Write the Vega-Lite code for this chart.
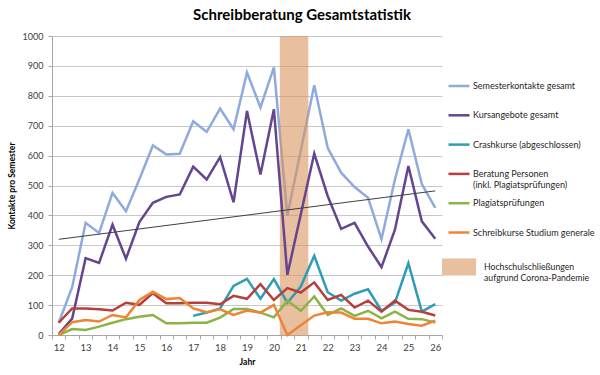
{
  "$schema": "https://vega.github.io/schema/vega-lite/v6.json",
  "width": 390,
  "height": 299,
  "autosize": {"type": "none"},
  "padding": {"left": 52, "top": 36, "right": 158, "bottom": 40},
  "background": "white",
  "title": {"text": "Schreibberatung Gesamtstatistik", "fontSize": 15, "font": "Lato", "fontWeight": "bold", "color": "#000000", "anchor": "middle", "frame": "group", "dx": 55, "offset": 9},
  "config": {
    "font": "Lato",
    "view": {"stroke": null},
    "axis": {"labelFont": "Lato", "labelFontSize": 9, "labelColor": "#404040", "titleFont": "Lato", "titleFontSize": 8.5, "titleFontWeight": "bold", "titleColor": "#000000", "domainColor": "#A6A6A6", "tickColor": "#A6A6A6", "gridColor": "#C8C8C8"},
    "legend": {"labelFont": "Lato", "labelFontSize": 9, "labelColor": "#262626"}
  },
  "datasets": {
    "main": [
      {"Jahr": 12, "sk": 41, "ka": 3, "be": 41, "pl": 0, "sg": 0},
      {"Jahr": 12.5, "sk": 160, "ka": 55, "be": 89, "pl": 20, "sg": 43},
      {"Jahr": 13, "sk": 375, "ka": 257, "be": 89, "pl": 17, "sg": 50},
      {"Jahr": 13.5, "sk": 341, "ka": 241, "be": 86, "pl": 28, "sg": 45},
      {"Jahr": 14, "sk": 475, "ka": 369, "be": 82, "pl": 41, "sg": 67},
      {"Jahr": 14.5, "sk": 414, "ka": 255, "be": 108, "pl": 53, "sg": 59},
      {"Jahr": 15, "sk": 521, "ka": 378, "be": 101, "pl": 61, "sg": 117},
      {"Jahr": 15.5, "sk": 634, "ka": 442, "be": 140, "pl": 67, "sg": 145},
      {"Jahr": 16, "sk": 604, "ka": 462, "be": 106, "pl": 39, "sg": 120},
      {"Jahr": 16.5, "sk": 606, "ka": 470, "be": 106, "pl": 39, "sg": 124},
      {"Jahr": 17, "sk": 715, "ka": 563, "cr": 64, "be": 108, "pl": 41, "sg": 89},
      {"Jahr": 17.5, "sk": 679, "ka": 520, "cr": 75, "be": 108, "pl": 41, "sg": 76},
      {"Jahr": 18, "sk": 757, "ka": 595, "cr": 89, "be": 103, "pl": 58, "sg": 86},
      {"Jahr": 18.5, "sk": 688, "ka": 444, "cr": 164, "be": 131, "pl": 87, "sg": 67},
      {"Jahr": 19, "sk": 878, "ka": 749, "cr": 188, "be": 121, "pl": 87, "sg": 82},
      {"Jahr": 19.5, "sk": 761, "ka": 537, "cr": 121, "be": 170, "pl": 75, "sg": 75},
      {"Jahr": 20, "sk": 895, "ka": 755, "cr": 187, "be": 117, "pl": 59, "sg": 101},
      {"Jahr": 20.5, "sk": 399, "ka": 201, "cr": 108, "be": 157, "pl": 115, "sg": 0},
      {"Jahr": 21, "sk": 617, "ka": 404, "cr": 162, "be": 142, "pl": 81, "sg": 33},
      {"Jahr": 21.5, "sk": 835, "ka": 607, "cr": 265, "be": 176, "pl": 129, "sg": 65},
      {"Jahr": 22, "sk": 626, "ka": 465, "cr": 143, "be": 117, "pl": 67, "sg": 76},
      {"Jahr": 22.5, "sk": 543, "ka": 355, "cr": 115, "be": 134, "pl": 89, "sg": 75},
      {"Jahr": 23, "sk": 495, "ka": 375, "cr": 138, "be": 92, "pl": 64, "sg": 54},
      {"Jahr": 23.5, "sk": 459, "ka": 296, "cr": 153, "be": 115, "pl": 81, "sg": 54},
      {"Jahr": 24, "sk": 321, "ka": 227, "cr": 81, "be": 78, "pl": 56, "sg": 39},
      {"Jahr": 24.5, "sk": 520, "ka": 352, "cr": 108, "be": 115, "pl": 78, "sg": 45},
      {"Jahr": 25, "sk": 688, "ka": 565, "cr": 240, "be": 84, "pl": 54, "sg": 37},
      {"Jahr": 25.5, "sk": 505, "ka": 380, "cr": 78, "be": 78, "pl": 53, "sg": 31},
      {"Jahr": 26, "sk": 425, "ka": 322, "cr": 103, "be": 65, "pl": 42, "sg": 48}
    ]
  },
  "resolve": {"axis": {"x": "independent"}},
  "layer": [
    {
      "data": {"name": "main"},
      "transform": [{"fold": ["sk"], "as": ["Serie", "Wert"]}],
      "mark": {"type": "line", "strokeWidth": 2.5},
      "encoding": {
        "x": {"field": "Jahr", "type": "quantitative", "scale": {"domain": [11.75, 26.25], "nice": false, "zero": false},
              "axis": {"orient": "bottom", "values": [12, 13, 14, 15, 16, 17, 18, 19, 20, 21, 22, 23, 24, 25, 26], "ticks": false, "grid": false, "domain": true, "labelPadding": 7, "labelFontSize": 9.5, "title": "Jahr", "titlePadding": 6}},
        "y": {"field": "Wert", "type": "quantitative", "title": "Kontakte pro Semester",
              "scale": {"domain": [0, 1000], "nice": false},
              "axis": {"values": [0, 100, 200, 300, 400, 500, 600, 700, 800, 900, 1000], "format": "d", "grid": true, "ticks": true, "tickSize": 4, "labelPadding": 5, "domain": true, "titlePadding": 6}},
        "stroke": {"field": "Serie", "type": "nominal",
          "scale": {"domain": ["sk", "ka", "cr", "be", "pl", "sg"],
                    "range": ["#8FAADC", "#64458F", "#2E9DB5", "#B5403D", "#8AB545", "#EE8434"]},
          "legend": {"title": null, "orient": "none", "legendX": 395, "legendY": 38, "symbolType": "stroke", "symbolSize": 441, "symbolStrokeWidth": 2.5, "labelOffset": 2, "rowPadding": 1.3, "gridAlign": "all", "labelLimit": 200,
                     "labelExpr": "datum.label == 'sk' ? 'Semesterkontakte gesamt' : datum.label == 'ka' ? 'Kursangebote gesamt' : datum.label == 'cr' ? 'Crashkurse (abgeschlossen)' : datum.label == 'be' ? ['Beratung Personen', '(inkl. Plagiatsprüfungen)'] : datum.label == 'pl' ? 'Plagiatsprüfungen' : 'Schreibkurse Studium generale'"}}
      }
    },
    {
      "data": {"values": [{"von": 20.22, "bis": 21.28, "unten": 0, "oben": 1000, "Ereignis": "Hochschulschließungen aufgrund Corona-Pandemie"}]},
      "mark": {"type": "rect", "opacity": 0.6},
      "encoding": {
        "x": {"field": "von", "type": "quantitative", "axis": null},
        "x2": {"field": "bis"},
        "y": {"field": "unten", "type": "quantitative", "title": "Kontakte pro Semester",
              "axis": {"values": [0, 100, 200, 300, 400, 500, 600, 700, 800, 900, 1000], "format": "d", "grid": true, "ticks": true, "tickSize": 4, "labelPadding": 5, "domain": true, "titlePadding": 6}},
        "y2": {"field": "oben"},
        "fill": {"field": "Ereignis", "type": "nominal", "scale": {"range": ["#D9955F"]},
          "legend": {"title": null, "orient": "none", "legendX": 390, "legendY": 214, "symbolType": "M-1,-0.5H1V0.5H-1Z", "symbolSize": 1156, "symbolOpacity": 0.6, "symbolStrokeWidth": 0, "labelOffset": 8, "labelFontSize": 8.7, "labelLimit": 200,
                     "labelExpr": "['Hochschulschließungen', 'aufgrund Corona-Pandemie']"}}
      }
    },
    {
      "data": {"name": "main"},
      "transform": [{"fold": ["ka", "cr", "be", "pl", "sg"], "as": ["Serie", "Wert"]}],
      "mark": {"type": "line", "strokeWidth": 2.5},
      "encoding": {
        "x": {"field": "Jahr", "type": "quantitative",
              "axis": {"orient": "bottom", "values": [11.75, 12.25, 12.75, 13.25, 13.75, 14.25, 14.75, 15.25, 15.75, 16.25, 16.75, 17.25, 17.75, 18.25, 18.75, 19.25, 19.75, 20.25, 20.75, 21.25, 21.75, 22.25, 22.75, 23.25, 23.75, 24.25, 24.75, 25.25, 25.75, 26.25], "labels": false, "ticks": true, "tickSize": 4, "domain": false, "grid": false, "title": null}},
        "y": {"field": "Wert", "type": "quantitative", "title": "Kontakte pro Semester",
              "axis": {"values": [0, 100, 200, 300, 400, 500, 600, 700, 800, 900, 1000], "format": "d", "grid": true, "ticks": true, "tickSize": 4, "labelPadding": 5, "domain": true, "titlePadding": 6}},
        "stroke": {"field": "Serie", "type": "nominal"}
      }
    },
    {
      "data": {"values": [{"Jahr": 12, "Trend": 320}, {"Jahr": 26, "Trend": 482}]},
      "mark": {"type": "line", "strokeWidth": 1, "color": "#404040"},
      "encoding": {
        "x": {"field": "Jahr", "type": "quantitative", "axis": null},
        "y": {"field": "Trend", "type": "quantitative", "title": "Kontakte pro Semester",
              "axis": {"values": [0, 100, 200, 300, 400, 500, 600, 700, 800, 900, 1000], "format": "d", "grid": true, "ticks": true, "tickSize": 4, "labelPadding": 5, "domain": true, "titlePadding": 6}}
      }
    }
  ]
}
